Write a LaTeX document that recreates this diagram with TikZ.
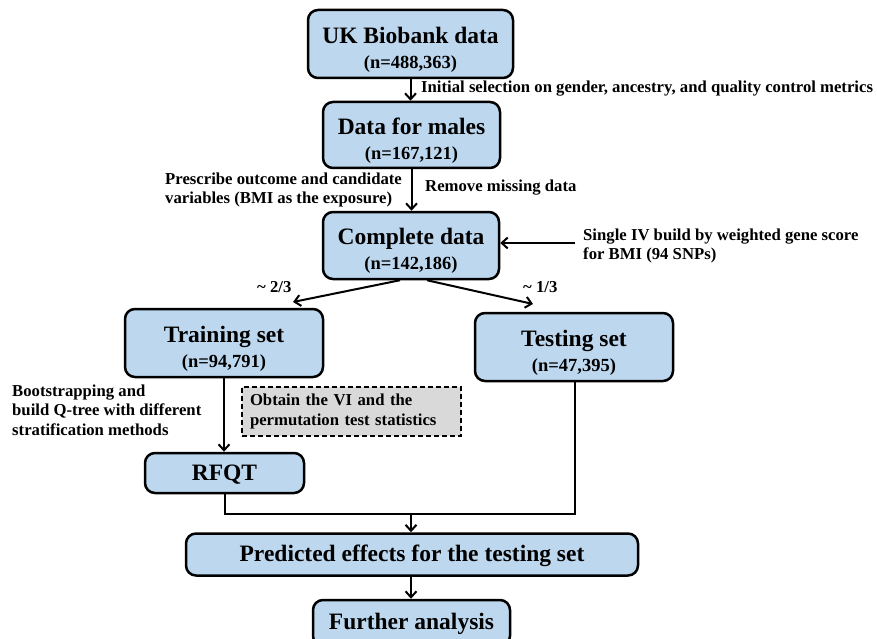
\documentclass[tikz,border=0pt]{standalone}
\usepackage{fontspec}
\setmainfont{Liberation Serif}
\usetikzlibrary{arrows.meta,calc}
\definecolor{boxblue}{HTML}{BDD7EE}
\definecolor{boxgray}{HTML}{D9D9D9}
\newcommand{\ttl}{\fontsize{23.5}{25}\selectfont\bfseries}
\newcommand{\sbt}{\fontsize{18.5}{25}\selectfont\bfseries}
\newcommand{\lbl}{\fontsize{16.7}{19.5}\selectfont\bfseries}
\newcommand{\up}{\rule{0pt}{27pt}}
\begin{document}
\begin{tikzpicture}[x=1pt,y=-1pt,
  bluebox/.style={draw=black, line width=2.5pt, fill=boxblue, rounded corners=10pt,
    align=center, inner sep=0pt, font=\ttl},
  conn/.style={line width=2pt, -{Straight Barb[length=6pt,width=11pt,line width=2pt]}},
  plain/.style={line width=2pt},
  lab/.style={inner sep=0pt, font=\lbl}]
\clip (0,0) rectangle (877,639);
\fill[white] (0,0) rectangle (877,639);

\node[bluebox, minimum width=205pt, minimum height=68pt] (uk) at (410.5,44)
  {\up UK Biobank data\\\sbt (n=488,363)};
\node[bluebox, minimum width=177pt, minimum height=66pt] (males) at (411.5,135)
  {\up Data for males\\\sbt (n=167,121)};
\node[bluebox, minimum width=176pt, minimum height=67pt] (complete) at (411,245.5)
  {\up Complete data\\\sbt (n=142,186)};
\node[bluebox, minimum width=198pt, minimum height=68pt] (train) at (224,343)
  {\up Training set\\\sbt (n=94,791)};
\node[bluebox, minimum width=198pt, minimum height=68pt] (test) at (574,347)
  {\up Testing set\\\sbt (n=47,395)};
\node[bluebox, minimum width=159pt, minimum height=40pt] (rfqt) at (224.5,473)
  {\rule{0pt}{19pt}RFQT};
\node[bluebox, minimum width=452pt, minimum height=42pt] (pred) at (412,554.5)
  {\rule{0pt}{19pt}Predicted effects for the testing set};
\node[bluebox, minimum width=197pt, minimum height=46pt] (further) at (411.5,623)
  {\rule{0pt}{19pt}Further analysis};

\node[draw=black, dash pattern=on 5pt off 3pt, line width=1.6pt, fill=boxgray, minimum width=219pt,
  minimum height=49pt, inner sep=0pt, text width=203pt, align=left, font=\lbl] (vi) at (351.5,411.5)
  {Obtain the VI and the\\permutation test statistics};

% labels
\node[lab, anchor=west] (l1) at (421,89)
  {Initial selection on gender, ancestry, and quality control metrics};
\node[lab, anchor=west, align=left] (l2) at (165,190)
  {Prescribe outcome and candidate\\variables (BMI as the exposure)};
\node[lab, anchor=west] (l3) at (425,188) {Remove missing data};
\node[lab, anchor=west, align=left] (l4) at (583,246)
  {Single IV build by weighted gene score\\for BMI (94 SNPs)};
\node[lab, anchor=west] (l5) at (257,287) {\textasciitilde{} 2/3};
\node[lab, anchor=west] (l6) at (523,287) {\textasciitilde{} 1/3};
\node[lab, anchor=west, align=left] (l7) at (12,410)
  {Bootstrapping and\\build Q-tree with different\\stratification methods};

% connectors
\draw[conn] (uk.south) -- (uk.south |- males.north);
\draw[conn] (males.south) -- (males.south |- complete.north);
\coordinate (ivs) at (575,243);
\draw[conn] (ivs) -- (complete.east |- ivs);
\coordinate (t2) at (293,302);
\coordinate (t3) at (533,304);
\draw[conn] ($(complete.south)+(-11,0)$) -- (t2);
\draw[conn] ($(complete.south)+(16,0)$) -- (t3);
\draw[conn] (train.south) -- (train.south |- rfqt.north);
\coordinate (jl) at (224.5,514);
\coordinate (jr) at (575,514);
\coordinate (jm) at (411,514);
\draw[plain] (rfqt.south) -- (jl) -- (jr) -- (test.south -| jr);
\draw[conn] (jm) -- (jm |- pred.north);
\draw[conn] (pred.south -| jm) -- (jm |- further.north);
\end{tikzpicture}
\end{document}
